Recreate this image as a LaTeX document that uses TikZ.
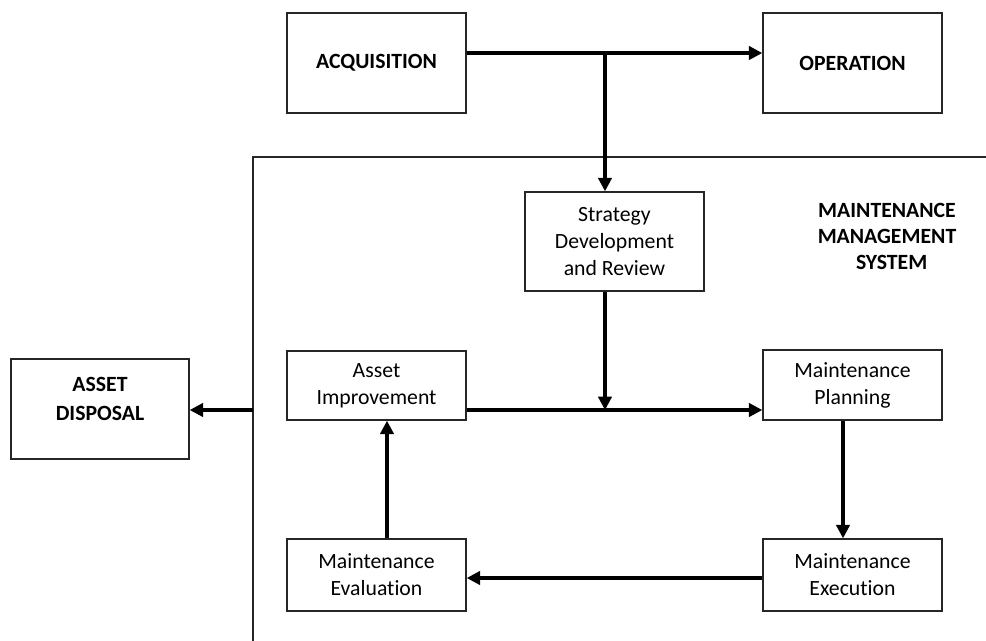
\documentclass[tikz,border=0pt]{standalone}
\usepackage{fontspec}
\setmainfont{Carlito}[Ligatures=NoCommon]
\usetikzlibrary{arrows.meta}
\begin{document}
\begin{tikzpicture}[x=0.75pt,y=-0.75pt,
  box/.style={draw=black!85,line width=1.1pt,minimum width=134.25pt,align=center,inner sep=0pt,
    font=\fontsize{16.3}{20.25}\selectfont},
  bigbox/.style={box,font=\fontsize{16.3}{21.5}\selectfont\bfseries},
  arr/.style={line width=2.3pt,-{Triangle[length=10pt,width=10pt]}},
  frame/.style={draw=black!85,line width=0.9pt}]
\useasboundingbox (0,0) rectangle (986,640);
% boxes
\node[bigbox,minimum height=75pt] (acq) at (376.5,63) {ACQUISITION};
\node[bigbox,minimum height=75pt] (ope) at (852.5,63) {OPERATION};
\node[box,minimum height=74.25pt] (strat) at (614.5,241.5) {Strategy\\Development\\and Review};
\node[box,minimum height=51.75pt] (ai) at (376.5,385.5) {Asset\\Improvement};
\node[box,minimum height=52.5pt] (mp) at (852.5,385) {Maintenance\\Planning};
\node[box,minimum height=54pt] (me) at (376.5,575) {Maintenance\\Evaluation};
\node[box,minimum height=54pt] (mx) at (852.5,575) {Maintenance\\Execution};
\node[draw=black!85,line width=1.1pt,minimum width=133.5pt,minimum height=75pt,inner sep=0pt] (ad) at (100,409) {};
\node[align=center,inner sep=0pt,font=\fontsize{16.3}{21.75}\selectfont\bfseries] (adt) at (100,399) {ASSET\\DISPOSAL};
\node[align=center,inner sep=0pt,font=\fontsize{16.3}{19.5}\selectfont\bfseries] (mms) at (887,236) {MAINTENANCE\\MANAGEMENT\\\hspace*{7pt}SYSTEM};
% frame
\coordinate (fb) at (253,641);
\coordinate (ft) at (253,157);
\coordinate (fr) at (987,157);
\draw[frame] (fb) -- (ft) -- (fr);
% junctions
\coordinate (j1) at (605,53);
\coordinate (j2) at (605,410);
\coordinate (fl) at (253,410);
% connectors
\draw[arr] (acq.east |- j1) -- (ope.west |- j1);
\draw[arr] (j1) -- (j1 |- strat.north);
\draw[arr] (j2 |- strat.south) -- (j2);
\draw[arr] (ai.east |- j2) -- (mp.west |- j2);
\draw[arr] (mp.south -| 843,0) -- (mx.north -| 843,0);
\draw[arr] (mx.west |- 0,578) -- (me.east |- 0,578);
\draw[arr] (me.north -| 387,0) -- (ai.south -| 387,0);
\draw[arr] (fl) -- (ad.east |- fl);
\end{tikzpicture}
\end{document}
